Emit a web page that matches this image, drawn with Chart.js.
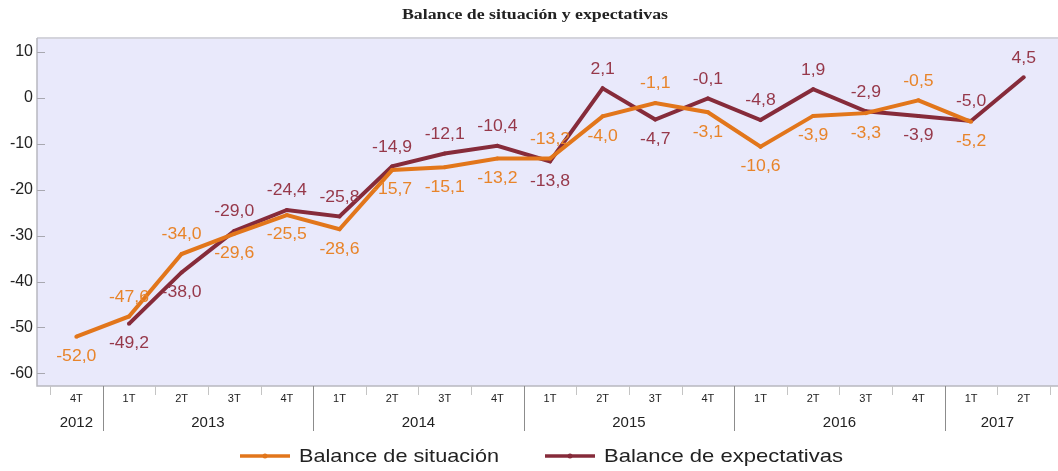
<!DOCTYPE html>
<html>
<head>
<meta charset="utf-8">
<script src="https://cdn.jsdelivr.net/npm/chart.js@4.4.1/dist/chart.umd.min.js"></script>
<style>
  html, body { margin: 0; padding: 0; background: #ffffff; }
  #wrap { width: 1058px; height: 471px; position: relative; }
</style>
</head>
<body>
<div id="wrap"><canvas id="c" width="1058" height="471"></canvas></div>
<script>
const title = 'Balance de situación y expectativas';
const quarters = ['4T','1T','2T','3T','4T','1T','2T','3T','4T','1T','2T','3T','4T','1T','2T','3T','4T','1T','2T'];
const years = ['2012','2013','2013','2013','2013','2014','2014','2014','2014','2015','2015','2015','2015','2016','2016','2016','2016','2017','2017'];
const situacion = [-52.0,-47.6,-34.0,-29.6,-25.5,-28.6,-15.7,-15.1,-13.2,-13.2,-4.0,-1.1,-3.1,-10.6,-3.9,-3.3,-0.5,-5.2,null];
const expectativas = [null,-49.2,-38.0,-29.0,-24.4,-25.8,-14.9,-12.1,-10.4,-13.8,2.1,-4.7,-0.1,-4.8,1.9,-2.9,-3.9,-5.0,4.5];
const yTicks = [-60,-50,-40,-30,-20,-10,0,10];
const seriesNames = ['Balance de situación','Balance de expectativas'];

const ORANGE = '#E2761B', ORANGE_LBL = '#E8842A';
const DARK = '#862B3A', DARK_LBL = '#96384A';

const labels = quarters.map((q, i) => q + ' ' + years[i]);

function fmt(v) { return v.toFixed(1).replace('.', ','); }

// draw text horizontally stretched to a target width
function stretchText(ctx, text, x, y, targetW, align) {
  const w = ctx.measureText(text).width;
  const s = targetW / w;
  ctx.save();
  ctx.translate(x, y);
  ctx.scale(s, 1);
  ctx.textAlign = align;
  ctx.fillText(text, 0, 0);
  ctx.restore();
}

const decor = {
  id: 'decor',
  beforeDraw(chart) {
    const ctx = chart.ctx, a = chart.chartArea;
    const L = a.left - 13, R = chart.width;
    ctx.save();
    ctx.fillStyle = '#E9E9FB';
    ctx.fillRect(L, a.top, R - L, a.bottom - a.top);
    ctx.strokeStyle = '#D4D4DC'; ctx.lineWidth = 2;
    ctx.beginPath(); ctx.moveTo(L, a.top); ctx.lineTo(R, a.top); ctx.stroke();
    ctx.strokeStyle = '#B8B8C0'; ctx.lineWidth = 1.5;
    ctx.beginPath(); ctx.moveTo(L, a.top); ctx.lineTo(L, a.bottom); ctx.lineTo(R, a.bottom); ctx.stroke();
    const y = chart.scales.y;
    ctx.strokeStyle = '#A8A8B0'; ctx.lineWidth = 1;
    yTicks.forEach(t => {
      const py = Math.round(y.getPixelForValue(t)) + 0.5;
      ctx.beginPath(); ctx.moveTo(L, py); ctx.lineTo(L + 8, py); ctx.stroke();
    });
    const x = chart.scales.x;
    const n = quarters.length;
    const w = (a.right - a.left) / n;
    for (let i = 0; i <= n; i++) {
      const px = Math.round(a.left + i * w) + 0.5;
      const yearBoundary = (i > 0 && i < n) && years[i] !== years[i - 1];
      ctx.beginPath();
      if (yearBoundary) {
        ctx.strokeStyle = '#8C8C8C';
        ctx.moveTo(px, a.bottom); ctx.lineTo(px, a.bottom + 45);
      } else {
        ctx.strokeStyle = '#C4C4C4';
        ctx.moveTo(px, a.bottom); ctx.lineTo(px, a.bottom + 9);
      }
      ctx.stroke();
    }
    ctx.fillStyle = '#222';
    ctx.textAlign = 'center'; ctx.textBaseline = 'middle';
    ctx.font = '11px "Liberation Sans", Arial, sans-serif';
    quarters.forEach((q, i) => {
      ctx.fillText(q, x.getPixelForValue(i), a.bottom + 13);
    });
    ctx.font = '14px "Liberation Sans", Arial, sans-serif';
    let start = 0;
    for (let i = 1; i <= n; i++) {
      if (i === n || years[i] !== years[start]) {
        const cx = (x.getPixelForValue(start) + x.getPixelForValue(i - 1)) / 2;
        stretchText(ctx, years[start], cx, a.bottom + 37, ctx.measureText(years[start]).width * 1.07, 'center');
        start = i;
      }
    }
    // title
    ctx.font = 'bold 14px "Liberation Serif", "Times New Roman", serif';
    ctx.fillStyle = '#222';
    stretchText(ctx, title, 535, 15, 266, 'center');
    // legend
    const items = [
      { name: seriesNames[0], color: ORANGE, x: 240, w: 200 },
      { name: seriesNames[1], color: DARK, x: 545, w: 239 }
    ];
    ctx.font = '19px "Liberation Sans", Arial, sans-serif';
    items.forEach(it => {
      ctx.strokeStyle = it.color; ctx.lineWidth = 3.5;
      ctx.beginPath(); ctx.moveTo(it.x, 456); ctx.lineTo(it.x + 50, 456); ctx.stroke();
      ctx.fillStyle = it.color;
      ctx.beginPath(); ctx.arc(it.x + 25, 456, 2.5, 0, Math.PI * 2); ctx.fill();
      ctx.fillStyle = '#222';
      stretchText(ctx, it.name, it.x + 59, 457, it.w, 'left');
    });
    ctx.restore();
  },
  afterDatasetsDraw(chart) {
    const ctx = chart.ctx;
    const x = chart.scales.x, y = chart.scales.y;
    ctx.save();
    ctx.font = '16px "Liberation Sans", Arial, sans-serif';
    ctx.textBaseline = 'middle';
    const sets = [situacion, expectativas];
    const cols = [ORANGE_LBL, DARK_LBL];
    sets.forEach((arr, s) => {
      const other = sets[1 - s];
      arr.forEach((v, i) => {
        if (v === null) return;
        const o = other[i];
        const above = (o === null || o === undefined) ? (s === 1) : v > o;
        const px = x.getPixelForValue(i);
        const py = y.getPixelForValue(v) + (above ? -19 : 20);
        ctx.fillStyle = cols[s];
        const t = fmt(v);
        stretchText(ctx, t, px, py, ctx.measureText(t).width * 1.1, 'center');
      });
    });
    ctx.restore();
  }
};

new Chart(document.getElementById('c'), {
  type: 'line',
  data: {
    labels: labels,
    datasets: [
      { label: seriesNames[0], data: situacion, borderColor: ORANGE, backgroundColor: ORANGE,
        borderWidth: 4, pointRadius: 2, pointBorderWidth: 0, pointBackgroundColor: ORANGE, tension: 0, spanGaps: false },
      { label: seriesNames[1], data: expectativas, borderColor: DARK, backgroundColor: DARK,
        borderWidth: 4, pointRadius: 2, pointBorderWidth: 0, pointBackgroundColor: DARK, tension: 0, spanGaps: false }
    ]
  },
  options: {
    responsive: false,
    animation: false,
    layout: { padding: { top: 38, bottom: 85, left: 0, right: 8 } },
    plugins: { legend: { display: false }, title: { display: false }, tooltip: { enabled: false } },
    scales: {
      x: { type: 'category', offset: true, display: false },
      y: {
        min: -62.75, max: 13.07,
        afterFit(scale) { scale.width = 50; },
        afterBuildTicks(scale) { scale.ticks = yTicks.map(v => ({ value: v })); },
        grid: { display: false, drawTicks: false },
        border: { display: false },
        ticks: {
          padding: 17,
          color: '#222',
          font: { family: '"Liberation Sans", Arial, sans-serif', size: 16 },
          callback: v => String(v)
        }
      }
    }
  },
  plugins: [decor]
});
</script>
</body>
</html>
